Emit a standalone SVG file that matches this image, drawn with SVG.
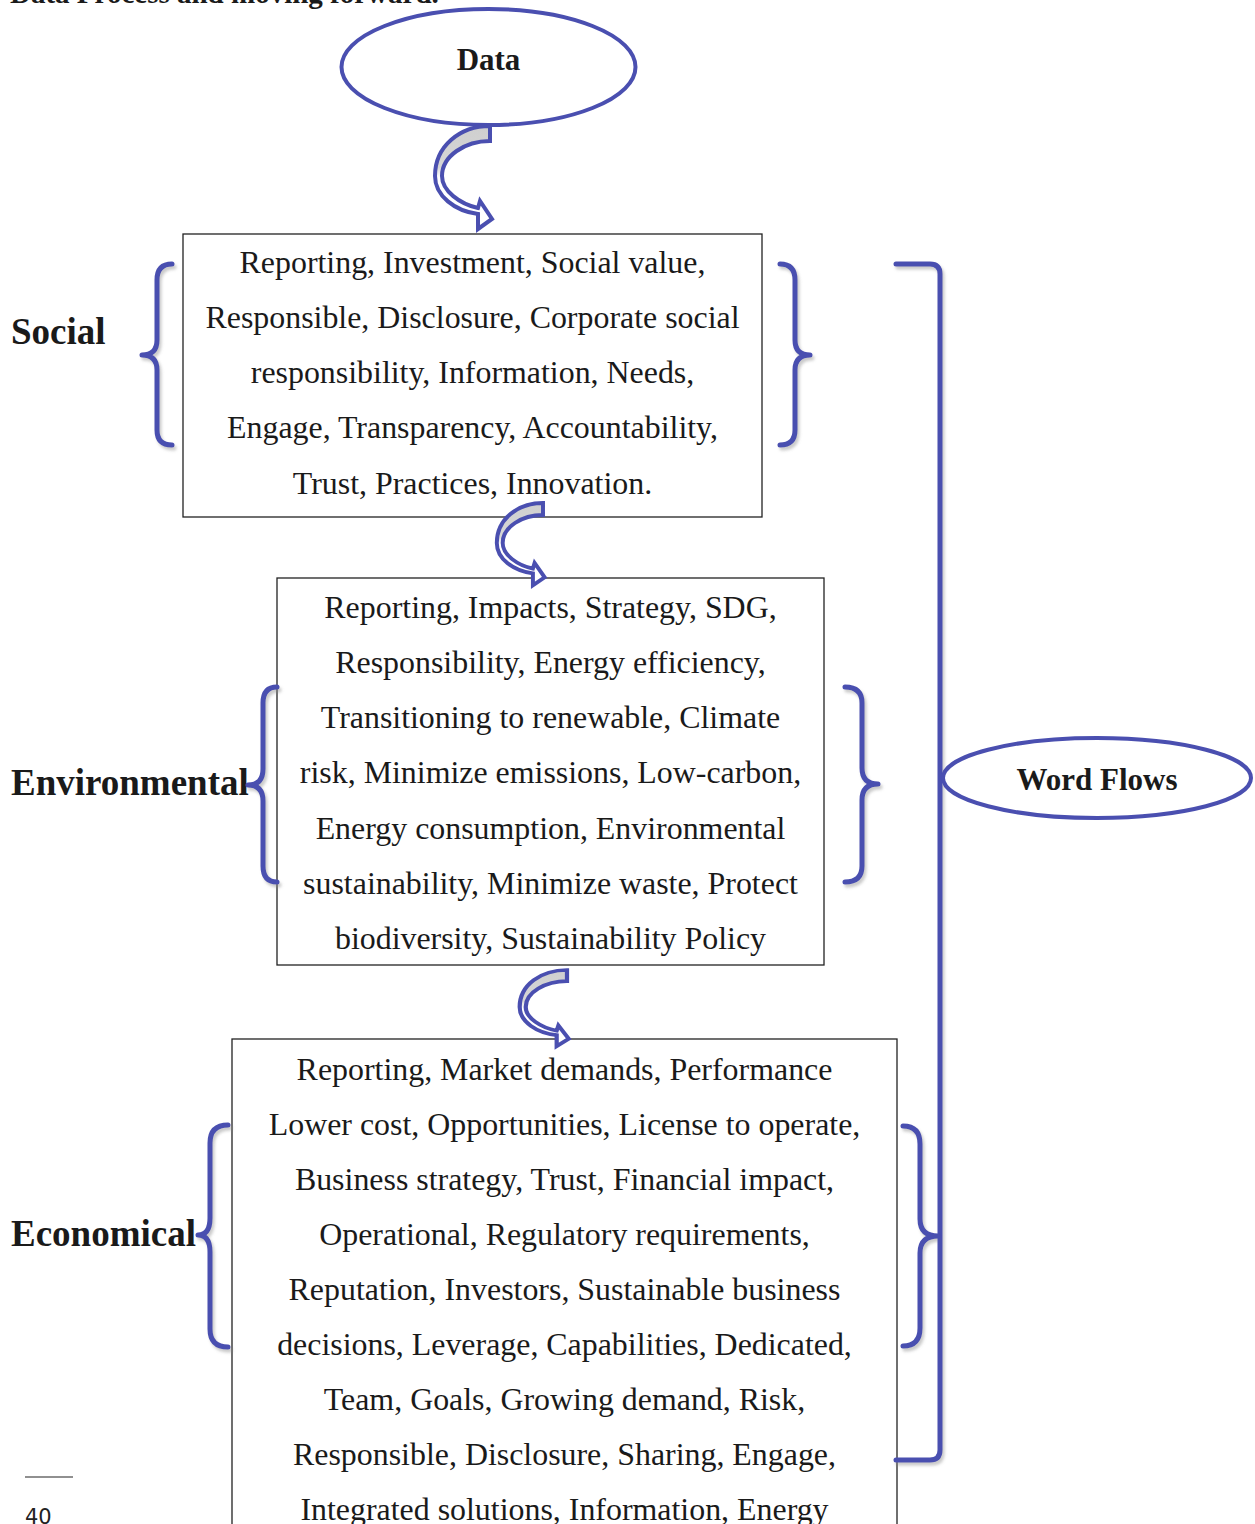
<svg xmlns="http://www.w3.org/2000/svg" width="1255" height="1524" viewBox="0 0 1255 1524">
<style>
.body{font-family:"Liberation Serif","Times New Roman",serif;font-size:31.9px;fill:#1a1a1a;text-anchor:middle}
.lab{font-family:"Liberation Serif","Times New Roman",serif;font-size:37px;font-weight:bold;fill:#1a1a1a}
.ttl{font-family:"Liberation Serif","Times New Roman",serif;font-size:31px;font-weight:bold;fill:#1a1a1a;text-anchor:middle}
.box{fill:#fff;stroke:#222;stroke-width:1.3}
.ell{fill:#fff;stroke:#4a4fb0;stroke-width:4}
.br{fill:none;stroke:#4a4fb0;stroke-width:5;stroke-linecap:round;stroke-linejoin:round}
.arr{fill:url(#ag);stroke:#4a4fb0;stroke-width:4;stroke-linejoin:miter}
</style>
<defs>
<filter id="sh" x="-50%" y="-10%" width="200%" height="120%">
<feDropShadow dx="2" dy="3" stdDeviation="1.8" flood-color="#888" flood-opacity="0.45"/>
</filter>
<linearGradient id="ag" x1="0" y1="0" x2="0" y2="1">
<stop offset="0" stop-color="#cfcfcf"/>
<stop offset="0.4" stop-color="#d6d6d6"/>
<stop offset="0.5" stop-color="#fff"/>
<stop offset="1" stop-color="#fff"/>
</linearGradient>
<path id="carrow" d="M0 0 C-30 0 -55 20 -55 50 C-55 70 -35 85 -12 88 L-12 103 L2 93 L-10 75 L-12 82 C-30 78 -48 65 -48 50 C-48 30 -25 15 0 15 Z"/>
</defs>
<text x="10" y="3" style="font-family:'Liberation Serif',serif;font-size:29px;font-weight:bold;fill:#1a1a1a">Data Process and moving forward.</text>

<g id="data">
<ellipse class="ell" cx="488.5" cy="67" rx="147" ry="58"/>
<text class="ttl" x="488.5" y="70">Data</text>
</g>

<g id="social">
<rect class="box" x="183" y="234" width="579" height="283"/>
<text class="body" x="472.5" y="273">Reporting, Investment, Social value,</text>
<text class="body" x="472.5" y="328">Responsible, Disclosure, Corporate social</text>
<text class="body" x="472.5" y="383">responsibility, Information, Needs,</text>
<text class="body" x="472.5" y="438">Engage, Transparency, Accountability,</text>
<text class="body" x="472.5" y="494">Trust, Practices, Innovation.</text>
</g>
<g id="social-label"><text class="lab" x="11" y="344">Social</text></g>

<g id="environmental">
<rect class="box" x="277" y="578" width="547" height="387"/>
<text class="body" x="550.5" y="618">Reporting, Impacts, Strategy, SDG,</text>
<text class="body" x="550.5" y="673">Responsibility, Energy efficiency,</text>
<text class="body" x="550.5" y="728">Transitioning to renewable, Climate</text>
<text class="body" x="550.5" y="783">risk, Minimize emissions, Low-carbon,</text>
<text class="body" x="550.5" y="839">Energy consumption, Environmental</text>
<text class="body" x="550.5" y="894">sustainability, Minimize waste, Protect</text>
<text class="body" x="550.5" y="949">biodiversity, Sustainability Policy</text>
</g>
<g id="environmental-label"><text class="lab" x="11" y="795">Environmental</text></g>

<g id="economical">
<rect class="box" x="232" y="1039" width="665" height="520"/>
<text class="body" x="564.5" y="1080">Reporting, Market demands, Performance</text>
<text class="body" x="564.5" y="1135">Lower cost, Opportunities, License to operate,</text>
<text class="body" x="564.5" y="1190">Business strategy, Trust, Financial impact,</text>
<text class="body" x="564.5" y="1245">Operational, Regulatory requirements,</text>
<text class="body" x="564.5" y="1300">Reputation, Investors, Sustainable business</text>
<text class="body" x="564.5" y="1355">decisions, Leverage, Capabilities, Dedicated,</text>
<text class="body" x="564.5" y="1410">Team, Goals, Growing demand, Risk,</text>
<text class="body" x="564.5" y="1465">Responsible, Disclosure, Sharing, Engage,</text>
<text class="body" x="564.5" y="1520">Integrated solutions, Information, Energy</text>
</g>
<g id="economical-label"><text class="lab" x="11" y="1246">Economical</text></g>

<g id="connectors">
<g filter="url(#sh)">
<path class="br" d="M896 264 L930 264 Q940 264 940 274 L940 1450 Q940 1460 930 1460 L896 1460"/>
<path class="br" d="M172 264 Q157 264 157 280 L157 340 Q157 355 142 355 Q157 355 157 370 L157 430 Q157 445 172 445"/>
<path class="br" d="M780 264 Q795 264 795 280 L795 340 Q795 355 810 355 Q795 355 795 370 L795 430 Q795 445 780 445"/>
<path class="br" d="M277 687 Q263 687 263 703 L263 769 Q263 785 248 785 Q263 785 263 801 L263 866 Q263 882 277 882"/>
<path class="br" d="M845 687 Q862 687 862 703 L862 768 Q862 784 878 784 Q862 784 862 800 L862 866 Q862 882 845 882"/>
<path class="br" d="M228 1125 Q210 1125 210 1143 L210 1218 Q210 1235 198 1235 Q210 1235 210 1252 L210 1329 Q210 1347 228 1347"/>
<path class="br" d="M903 1126 Q920 1126 920 1144 L920 1219 Q920 1236 938 1236 Q920 1236 920 1253 L920 1328 Q920 1346 903 1346"/>
</g>
<use href="#carrow" class="arr" transform="translate(490,126)"/>
<use href="#carrow" class="arr" transform="translate(543,503) scale(0.84,0.8)" style="stroke-width:4.7"/>
<use href="#carrow" class="arr" transform="translate(567,970) scale(0.86,0.74)" style="stroke-width:4.9"/>
</g>

<g id="word-flows">
<ellipse class="ell" cx="1097" cy="778" rx="154" ry="40"/>
<text class="ttl" x="1097" y="790">Word Flows</text>
</g>

<g id="footnote">
<line x1="25" y1="1477" x2="73" y2="1477" stroke="#222" stroke-width="1.2"/>
<text x="25" y="1524" style="font-family:'DejaVu Sans',sans-serif;font-size:21px;fill:#222">40</text>
</g>
</svg>
